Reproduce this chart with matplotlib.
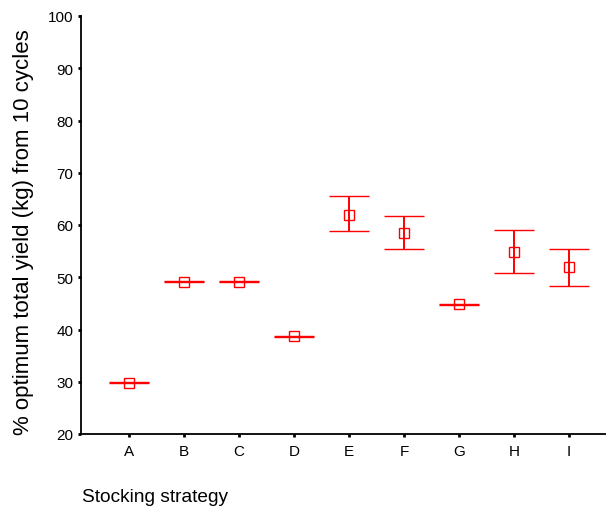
import matplotlib.pyplot as plt
import numpy as np

plt.rcParams['font.family'] = ['Liberation Sans', 'DejaVu Sans']

strategies = ['A', 'B', 'C', 'D', 'E', 'F', 'G', 'H', 'I']
means = [29.8, 49.1, 49.1, 38.7, 62.0, 58.5, 44.8, 54.8, 51.9]
upper = [29.9, 49.2, 49.2, 38.75, 65.5, 61.7, 44.85, 59.0, 55.5]
lower = [29.7, 49.0, 49.0, 38.65, 58.8, 55.5, 44.75, 50.8, 48.4]

x = np.arange(len(strategies))
means = np.array(means)
err = [means - np.array(lower), np.array(upper) - means]

fig = plt.figure(figsize=(6.06, 5.1), dpi=100)
ax = fig.add_axes([81/606, 1-435/510, (617-81)/606, (435-17)/510])

ax.errorbar(x, means, yerr=err, fmt='s', color='red', mfc='none', mec='red',
            markersize=6.5, mew=1.0, elinewidth=1.4, capsize=14.5, capthick=1.5)

ax.set_xlim(-0.873, 8.873)
ax.set_ylim(20, 100)
ax.set_yticks(np.arange(20, 101, 10))
ax.set_xticks(x)
ax.set_xticklabels(strategies)
ax.spines['top'].set_visible(False)
ax.spines['right'].set_visible(False)
ax.spines['left'].set_linewidth(1.3)
ax.spines['bottom'].set_linewidth(1.3)
ax.tick_params(length=2.5, width=2, labelsize=11)
ax.tick_params(axis='y', pad=3)
ax.tick_params(axis='x', pad=5)

fig.text(24/606, 1-232/510, '% optimum total yield (kg) from 10 cycles', fontsize=16,
         rotation=90, ha='center', va='center')
fig.text(82/606, 1-498/510, 'Stocking strategy', fontsize=13.8, ha='left', va='center')

plt.savefig('out.png', dpi=100)
